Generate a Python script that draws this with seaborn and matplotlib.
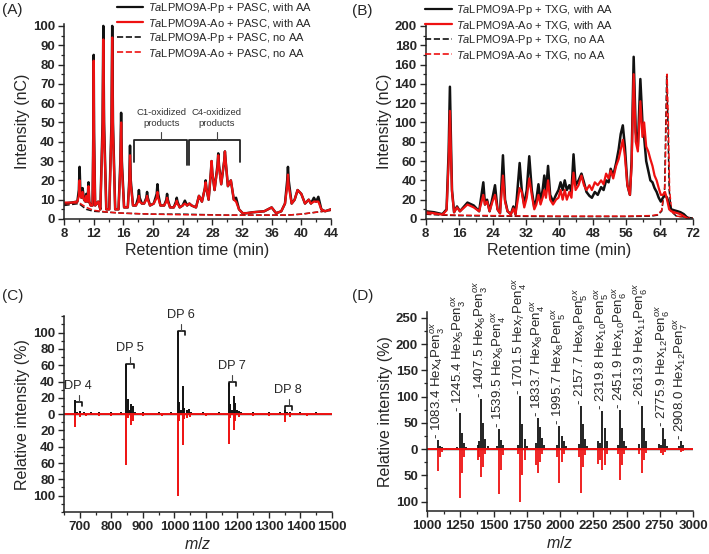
import numpy as np
import pandas as pd
import seaborn as sns
import matplotlib
matplotlib.use("Agg")
import matplotlib.pyplot as plt
from matplotlib.lines import Line2D
from matplotlib.ticker import MultipleLocator, FuncFormatter

# ---------------- DATA ----------------
# Panel A: HPAEC chromatogram, PASC
a_time = [8, 9, 9.8, 10.0, 10.1, 10.2, 10.35, 10.5, 10.7, 10.9, 11.0, 11.15, 11.25, 11.3, 11.4, 11.6,
          11.85, 11.95, 12.0, 12.05, 12.2, 12.6, 12.9, 13.2, 13.3, 13.4, 13.7, 14.1, 14.4, 14.5, 14.6,
          14.9, 15.35, 15.6, 15.7, 15.8, 16.1, 16.6, 16.8, 16.9, 17.0, 17.3, 17.7, 18.0, 18.1, 18.2,
          18.5, 18.8, 19.1, 19.2, 19.3, 19.6, 20.1, 20.5, 20.6, 20.7, 21.0, 21.5, 21.8, 21.9, 22.0,
          22.3, 22.8, 23.1, 23.2, 23.3, 23.6, 24.0, 24.3, 24.6, 24.9, 25.2, 25.5, 25.8, 26.2, 26.6,
          27.0, 27.1, 27.2, 27.5, 27.8, 27.9, 28.0, 28.3, 28.7, 28.8, 28.9, 29.2, 29.6, 29.7, 29.8,
          30.1, 30.5, 30.9, 31.2, 31.6, 32.1, 32.6, 33.5, 35.0, 36.0, 36.6, 37.3, 37.8, 38.1, 38.2,
          38.3, 38.7, 39.1, 39.5, 40.0, 40.5, 41.0, 41.3, 41.7, 42.0, 42.3, 42.7, 43.2, 44]
a_pp_aa = [8, 8.5, 9, 15, 27, 15, 11, 16, 10, 9, 13, 9, 15, 19, 9, 7, 7, 45, 85, 45, 7, 9, 5, 50, 100,
           50, 5, 5, 50, 100, 50, 5, 5, 30, 55, 30, 6, 6, 20, 38, 20, 7, 7, 11, 15, 11, 8, 8, 11, 14,
           11, 7, 8, 13, 18, 13, 7, 7, 10, 13, 10, 6, 6, 9, 11, 9, 6, 7, 9.5, 7, 8, 7, 6.5, 6, 12, 9,
           16, 20, 16, 10, 24, 30, 24, 15, 28, 34, 28, 18, 30, 35, 30, 17, 20, 10, 11, 5, 3, 3, 3.5, 4,
           6, 3, 4, 8, 20, 27, 20, 8, 10, 15, 13, 8, 10, 8, 11, 9, 11.5, 5, 4, 5]
a_ao_aa = [8.5, 8.5, 9, 12, 20, 12, 11, 14, 10, 9, 12, 9, 13, 17, 9, 7, 7, 42, 82, 42, 7, 9, 5, 46, 93,
           46, 5, 5, 46, 94, 46, 5, 5, 27, 50, 27, 6, 6, 18, 33, 18, 7, 7, 9, 12, 9, 8, 8, 10, 12, 10,
           7, 8, 11, 14, 11, 7, 7, 9, 11, 9, 6, 6, 8, 9.5, 8, 6, 7, 8, 7, 8, 7, 6.5, 6, 12, 9, 16, 19,
           16, 10, 24, 30, 24, 15, 27, 33, 27, 18, 30, 35, 30, 17, 20, 10, 9, 5, 3, 3, 3.5, 4, 6, 3, 4,
           8, 17, 23, 17, 8, 10, 15, 13, 8, 10, 8, 9, 9, 9, 5, 4, 5]
a_time_noaa = [8, 9, 10, 11, 12, 14, 16, 20, 24, 30, 36, 38, 40, 42, 44]
a_pp_noaa = [7, 7.5, 8, 5, 4, 3.5, 3, 2.5, 2.5, 2, 2, 2, 2.5, 3.5, 4.5]
a_ao_noaa = [7.5, 8, 8.5, 6, 4.5, 3.5, 3, 2.5, 2.2, 2, 2, 2, 2.5, 3.5, 4.5]

# Panel B: HPAEC chromatogram, TXG
b_time = [8, 10, 12, 13.0, 13.5, 13.8, 14.1, 14.3, 14.8, 15.5, 16.2, 17, 18, 19.5, 20.8, 21.8, 22.2,
          22.7, 23.3, 24.0, 24.6, 25.2, 25.8, 26.5, 27.0, 27.6, 28.4, 29.0, 29.5, 30.5, 31.0, 31.6,
          32.2, 32.8, 33.4, 34.0, 34.5, 35.0, 35.5, 36.0, 36.4, 36.8, 37.3, 37.8, 38.5, 39.2, 39.8,
          40.3, 40.8, 41.3, 41.8, 42.4, 42.9, 43.4, 43.9, 44.6, 45.3, 45.9, 46.5, 47.2, 47.8, 48.5,
          49.2, 50.0, 50.6, 51.2, 51.8, 52.3, 52.9, 53.6, 54.2, 54.7, 55.2, 55.7, 56.3, 56.9, 57.3,
          57.8, 58.3, 58.8, 59.4, 59.9, 60.3, 60.8, 61.3, 61.8, 62.3, 62.8, 63.3, 63.8, 64.3, 64.8,
          65.3, 65.8, 66.3, 66.8, 67.5, 68.3, 69.0, 69.8, 70.5, 71]
b_pp_aa = [8, 7, 5, 10, 70, 137, 70, 30, 7, 13, 8, 12, 17, 14, 8, 38, 15, 20, 8, 22, 35, 10, 6, 66, 20,
           8, 5, 13, 5, 58, 30, 15, 30, 65, 30, 12, 20, 36, 18, 30, 45, 28, 55, 25, 18, 25, 30, 38,
           30, 40, 30, 35, 28, 67, 35, 40, 47, 38, 28, 24, 22, 28, 25, 33, 30, 40, 38, 52, 45, 58, 72,
           88, 97, 75, 35, 25, 60, 168, 90, 75, 145, 100, 85, 60, 50, 40, 38, 32, 28, 22, 18, 22, 25,
           22, 15, 10, 9, 8, 7, 5, 2, 0]
b_ao_aa = [7, 6, 4.5, 9, 60, 112, 60, 28, 7, 12, 8, 11, 15, 12, 8, 25, 15, 18, 8, 18, 25, 10, 6, 45,
           18, 8, 5, 11, 5, 32, 28, 12, 22, 42, 25, 10, 15, 25, 15, 22, 30, 22, 40, 20, 15, 20, 22, 30,
           20, 30, 20, 28, 22, 48, 30, 35, 45, 35, 30, 35, 30, 38, 35, 40, 36, 47, 42, 50, 42, 55, 62,
           72, 82, 65, 35, 25, 55, 150, 80, 70, 122, 85, 100, 75, 70, 62, 55, 45, 40, 32, 25, 25, 28,
           20, 10, 8, 7, 6, 5, 3, 1, 0]
b_time_noaa = [8, 12, 16, 24, 40, 56, 62, 63.5, 64.5, 65.2, 65.7, 66.0, 66.3, 66.8, 68, 72]
b_pp_noaa = [5, 4, 3.5, 3, 2.5, 2.5, 3, 4, 8, 30, 148, 100, 30, 8, 3, 1]
b_time_noaa_r = [8, 12, 16, 24, 40, 56, 62, 63.5, 64.5, 65.3, 65.8, 66.1, 66.4, 66.9, 68, 72]
b_ao_noaa = [5.5, 4.5, 4, 3.5, 3, 3, 3.5, 4.5, 9, 35, 150, 100, 30, 8, 3, 1]

# Panel C: MALDI-TOF, PASC (positive = Pp, negative = Ao)
c_mz_pp = [684, 690, 700, 712, 734, 760, 800, 832, 848, 852, 858, 864, 868, 874, 900, 950, 990, 1010,
           1014, 1020, 1026, 1032, 1040, 1046, 1052, 1090, 1140, 1172, 1176, 1182, 1188, 1192, 1198,
           1204, 1210, 1250, 1300, 1334, 1350, 1356, 1366, 1400, 1450]
c_int_pp = [17, 3, 4, 2, 3, 2, 2, 2, 62, 18, 5, 13, 10, 3, 2, 2, 2, 102, 15, 5, 35, 8, 5, 6, 3, 2, 2,
            38, 12, 5, 22, 14, 5, 4, 3, 2, 2, 2, 5, 3, 3, 2, 2]
c_mz_ao = [684, 700, 720, 760, 800, 848, 852, 864, 868, 900, 960, 1010, 1014, 1026, 1032, 1040, 1050,
           1100, 1172, 1176, 1188, 1192, 1204, 1250, 1300, 1350, 1366, 1420]
c_int_ao = [-16, -3, -2, -2, -2, -62, -5, -13, -8, -2, -2, -100, -8, -38, -6, -5, -4, -2, -37, -5, -20,
            -8, -3, -2, -2, -10, -3, -2]
c_dp_labels = ["DP 4", "DP 5", "DP 6", "DP 7", "DP 8"]
c_dp_start = [684, 848, 1010, 1172, 1350]
c_dp_height = [15, 62, 102, 40, 10]

# Panel D: MALDI-TOF, TXG
d_mz_pp = [1068, 1083, 1099, 1115, 1140, 1229, 1245, 1261, 1277, 1293, 1380, 1391, 1407, 1423, 1439,
           1455, 1523, 1539, 1555, 1571, 1685, 1701, 1717, 1733, 1749, 1817, 1833, 1849, 1865, 1881,
           1979, 1995, 2011, 2027, 2043, 2141, 2157, 2173, 2189, 2205, 2287, 2303, 2319, 2335, 2351,
           2435, 2451, 2467, 2483, 2499, 2597, 2613, 2629, 2645, 2743, 2759, 2775, 2791, 2807, 2892,
           2908, 2924, 2940]
d_int_pp = [3, 17, 6, 4, 3, 4, 69, 30, 12, 4, 8, 15, 95, 50, 20, 5, 5, 39, 18, 8, 8, 101, 48, 20, 5,
            12, 60, 42, 22, 8, 8, 44, 25, 15, 5, 10, 82, 47, 20, 6, 15, 12, 73, 40, 15, 8, 75, 40, 15,
            5, 10, 82, 40, 15, 10, 8, 41, 20, 6, 5, 16, 8, 3]
d_mz_ao = [1083, 1099, 1115, 1245, 1261, 1277, 1380, 1391, 1407, 1423, 1439, 1539, 1555, 1571, 1685,
           1701, 1717, 1733, 1817, 1833, 1849, 1865, 1979, 1995, 2011, 2027, 2141, 2157, 2173, 2189,
           2287, 2303, 2319, 2335, 2351, 2435, 2451, 2467, 2483, 2597, 2613, 2629, 2645, 2759, 2775,
           2791, 2908, 2924]
d_int_ao = [-42, -15, -5, -94, -45, -15, -20, -15, -53, -35, -10, -86, -40, -12, -10, -100, -50, -20,
            -30, -46, -25, -10, -15, -65, -25, -10, -15, -83, -35, -12, -28, -20, -40, -30, -10, -10,
            -58, -30, -10, -10, -45, -20, -8, -8, -11, -5, -5, -3]
d_label_mz = [1083.4, 1245.4, 1407.5, 1539.5, 1701.5, 1833.7, 1995.7, 2157.7, 2319.8, 2451.9, 2613.9,
              2775.9, 2908.0]
d_label_hex = [4, 5, 6, 6, 7, 8, 8, 9, 10, 10, 11, 12, 12]
d_label_pen = [3, 3, 3, 4, 4, 4, 5, 5, 5, 6, 6, 6, 7]
d_label_height = [17, 69, 95, 39, 101, 60, 44, 82, 73, 75, 82, 41, 16]

legend_a = [r"$\it{Ta}$LPMO9A-Pp + PASC, with AA", r"$\it{Ta}$LPMO9A-Ao + PASC, with AA",
            r"$\it{Ta}$LPMO9A-Pp + PASC, no AA", r"$\it{Ta}$LPMO9A-Ao + PASC, no AA"]
legend_b = [r"$\it{Ta}$LPMO9A-Pp + TXG, with AA", r"$\it{Ta}$LPMO9A-Ao + TXG, with AA",
            r"$\it{Ta}$LPMO9A-Pp + TXG, no AA", r"$\it{Ta}$LPMO9A-Ao + TXG, no AA"]

# ---------------- STYLE ----------------
sns.set_theme(style="ticks")
plt.rcParams["font.family"] = ["Liberation Sans", "DejaVu Sans"]
plt.rcParams["mathtext.fontset"] = "custom"
plt.rcParams["mathtext.rm"] = "Liberation Sans"
plt.rcParams["mathtext.it"] = "Liberation Sans:italic"
plt.rcParams["mathtext.bf"] = "Liberation Sans:bold"
plt.rcParams["axes.linewidth"] = 1.1
plt.rcParams["axes.edgecolor"] = "#222222"

BLACK = "#111111"
RED = "#ee1111"
TICKFS = 9.5
LABFS = 11.5

fig = plt.figure(figsize=(7.09, 5.54), dpi=100)
axA = fig.add_axes([0.0903, 0.6047, 0.3765, 0.352])
axB = fig.add_axes([0.6004, 0.6047, 0.3770, 0.352])
axC = fig.add_axes([0.0903, 0.0760, 0.3780, 0.353])
axD = fig.add_axes([0.6023, 0.0776, 0.3752, 0.360])


def style_axis(ax):
    sns.despine(ax=ax)
    ax.tick_params(which="major", direction="out", length=4.5, width=1.0, labelsize=TICKFS, pad=2)
    ax.tick_params(which="minor", direction="out", length=2.5, width=0.9)
    for lab in ax.get_xticklabels() + ax.get_yticklabels():
        lab.set_fontweight("bold")


def line(ax, x, y, color, lw=1.4, ls="-"):
    df = pd.DataFrame({"x": x, "y": y})
    sns.lineplot(data=df, x="x", y="y", ax=ax, color=color, linewidth=lw, linestyle=ls,
                 estimator=None, sort=False, legend=False)


def handles():
    return [Line2D([], [], color=BLACK, lw=1.6), Line2D([], [], color=RED, lw=1.6),
            Line2D([], [], color=BLACK, lw=1.2, ls="--"), Line2D([], [], color=RED, lw=1.2, ls="--")]


# ---------- Panel A ----------
line(axA, a_time_noaa, a_pp_noaa, BLACK, 1.1, "--")
line(axA, a_time_noaa, a_ao_noaa, RED, 1.1, "--")
line(axA, a_time, a_pp_aa, BLACK, 1.8)
line(axA, a_time, a_ao_aa, RED, 1.6)
axA.set_xlim(8, 44)
axA.set_ylim(0, 101)
axA.xaxis.set_major_locator(MultipleLocator(4))
axA.xaxis.set_minor_locator(MultipleLocator(2))
axA.yaxis.set_major_locator(MultipleLocator(10))
axA.yaxis.set_minor_locator(MultipleLocator(5))
axA.set_xlabel("Retention time (min)", fontsize=LABFS, labelpad=2)
axA.set_ylabel("Intensity (nC)", fontsize=LABFS, labelpad=2)
style_axis(axA)
# brackets
bk = dict(color="#222222", lw=1.3, clip_on=False)
axA.plot([17.4, 17.4, 24.6, 24.6], [29.5, 41, 41, 28], **bk)
axA.plot([24.85, 24.85, 31.7, 31.7], [28, 41, 41, 29.5], **bk)
axA.plot([21.1, 21.1], [41, 45], color="#444444", lw=0.8)
axA.plot([28.6, 28.6], [41, 45], color="#444444", lw=0.8)
axA.text(21.1, 47, "C1-oxidized\nproducts", ha="center", va="bottom", fontsize=6.8,
         color="#333333", linespacing=1.25)
axA.text(28.6, 47, "C4-oxidized\nproducts", ha="center", va="bottom", fontsize=6.8,
         color="#333333", linespacing=1.25)
axA.legend(handles(), legend_a, loc="upper right", bbox_to_anchor=(312 / 709, 1 - 1 / 554),
           bbox_transform=fig.transFigure, frameon=False, fontsize=8.0, handlelength=2.4,
           handletextpad=0.4, labelspacing=0.14, borderpad=0, borderaxespad=0)
fig.text(2 / 709, 1 - 14 / 554, "(A)", fontsize=11, va="baseline")

# ---------- Panel B ----------
line(axB, b_time_noaa, b_pp_noaa, BLACK, 1.1, "--")
line(axB, b_time_noaa_r, b_ao_noaa, RED, 1.1, "--")
line(axB, b_time, b_pp_aa, BLACK, 1.8)
line(axB, b_time, b_ao_aa, RED, 1.6)
axB.set_xlim(8, 72)
axB.set_ylim(0, 202)
axB.xaxis.set_major_locator(MultipleLocator(8))
axB.xaxis.set_minor_locator(MultipleLocator(4))
axB.yaxis.set_major_locator(MultipleLocator(20))
axB.yaxis.set_minor_locator(MultipleLocator(10))
axB.set_xlabel("Retention time (min)", fontsize=LABFS, labelpad=2)
axB.set_ylabel("Intensity (nC)", fontsize=LABFS, labelpad=2)
style_axis(axB)
axB.legend(handles(), legend_b, loc="upper right", bbox_to_anchor=(613 / 709, 1 - 3 / 554),
           bbox_transform=fig.transFigure, frameon=False, fontsize=8.0, handlelength=2.4,
           handletextpad=0.4, labelspacing=0.14, borderpad=0, borderaxespad=0)
fig.text(352 / 709, 1 - 15 / 554, "(B)", fontsize=11, va="baseline")

# ---------- Panel C ----------
line(axC, [650, 1500], [0, 0], BLACK, 1.0)
axC.vlines(c_mz_pp, 0, c_int_pp, color=BLACK, lw=1.4)
axC.vlines(c_mz_ao, 0, c_int_ao, color=RED, lw=1.4)
line(axC, [650, 1500], [0, 0], RED, 1.4)
axC.set_xlim(650, 1500)
axC.set_ylim(-120, 120)
axC.xaxis.set_major_locator(MultipleLocator(100))
axC.xaxis.set_minor_locator(MultipleLocator(50))
axC.yaxis.set_major_locator(MultipleLocator(20))
axC.yaxis.set_minor_locator(MultipleLocator(10))
axC.set_yticks(np.arange(-100, 101, 20))
axC.yaxis.set_major_formatter(FuncFormatter(lambda v, p: f"{abs(v):.0f}"))
axC.set_xlabel("$m/z$", fontsize=LABFS, labelpad=2)
axC.set_ylabel("Relative intensity (%)", fontsize=LABFS, labelpad=2)
style_axis(axC)
for lab, x0, h in zip(c_dp_labels, c_dp_start, c_dp_height):
    w = 24
    axC.plot([x0, x0, x0 + w, x0 + w], [h - 5, h, h, h - 5], color=BLACK, lw=1.2, clip_on=False)
    axC.plot([x0 + w / 2, x0 + w / 2], [h, h + 8], color="#444444", lw=0.8, clip_on=False)
    axC.text(x0 + w / 2 - 2, h + 12, lab, ha="center", va="bottom", fontsize=9.2)
fig.text(2 / 709, 1 - 300 / 554, "(C)", fontsize=11, va="baseline")

# ---------- Panel D ----------
line(axD, [1000, 3000], [0, 0], BLACK, 1.0)
axD.vlines(d_mz_pp, 0, d_int_pp, color=BLACK, lw=1.3)
axD.vlines(d_mz_ao, 0, d_int_ao, color=RED, lw=1.3)
line(axD, [1000, 3000], [0, 0], RED, 1.4)
axD.set_xlim(1000, 3000)
axD.set_ylim(-118, 262)
axD.xaxis.set_major_locator(MultipleLocator(250))
axD.xaxis.set_minor_locator(MultipleLocator(125))
axD.set_yticks(np.arange(-100, 251, 50))
axD.yaxis.set_minor_locator(MultipleLocator(25))
axD.yaxis.set_major_formatter(FuncFormatter(lambda v, p: f"{abs(v):.0f}"))
axD.set_xlabel("$m/z$", fontsize=LABFS, labelpad=2)
axD.set_ylabel("Relative intensity (%)", fontsize=LABFS, labelpad=2)
style_axis(axD)
for mz, hx, pn, h in zip(d_label_mz, d_label_hex, d_label_pen, d_label_height):
    txt = f"- {mz:.1f} Hex$_{{{hx}}}$Pen$_{{{pn}}}^{{ox}}$"
    axD.text(mz, h + 2, txt, rotation=90, ha="center", va="bottom", fontsize=9.5)
fig.text(352 / 709, 1 - 300 / 554, "(D)", fontsize=11, va="baseline")

fig.savefig("out.png", dpi=100)
